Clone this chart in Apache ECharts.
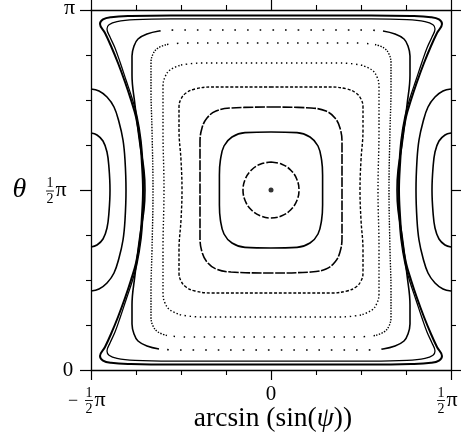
<!DOCTYPE html>
<html><head><meta charset="utf-8">
<script src="https://cdn.jsdelivr.net/npm/echarts@6/dist/echarts.min.js"></script>
<style>html,body{margin:0;padding:0;background:#fff}#c{width:462px;height:446px}</style>
</head><body><div id="c"></div>
<script>
// Units: degrees (x: arcsin(sin psi) from -90 to 90, y: theta from 0 to 180)
const xTickValues = [-90, 0, 90];
const xTickText = ['−½π', '0', '½π'];
const yTickValues = [0, 90, 180];
const yTickText = ['0', '½π', 'π'];

const centerPoint = [[0, 90]];
const k1 = [[0,104],[5.4,102.9],[9.9,99.9],[12.9,95.4],[14,90],[12.9,84.6],[9.9,80.1],[5.4,77.1],[0,76],[-5.4,77.1],[-9.9,80.1],[-12.9,84.6],[-14,90],[-12.9,95.4],[-9.9,99.9],[-5.4,102.9],[0,104]];
const k2 = [[0,119],[13,118.7],[19.5,116.5],[23.5,112],[25.3,105],[25.8,97.5],[25.8,90],[25.8,82.5],[25.3,75],[23.5,68],[19.5,63.5],[13,61.3],[0,61],[-13,61.3],[-19.5,63.5],[-23.5,68],[-25.3,75],[-25.8,82.5],[-25.8,90],[-25.8,97.5],[-25.3,105],[-23.5,112],[-19.5,116.5],[-13,118.7],[0,119]];
const k3 = [[0,131.5],[20,131],[27.5,129.5],[32,126],[34.5,121],[35.5,114],[35.5,102.5],[35.5,90],[35.5,77.5],[35.5,66],[34.5,59],[32,54],[27.5,50.5],[20,49],[0,48.5],[-20,49],[-27.5,50.5],[-32,54],[-34.5,59],[-35.5,66],[-35.5,77.5],[-35.5,90],[-35.5,102.5],[-35.5,114],[-34.5,121],[-32,126],[-27.5,129.5],[-20,131],[0,131.5]];
const k4 = [[0,141.5],[30,141.5],[38,140.5],[42.5,138.5],[45,135.5],[46,131.5],[46,120],[45,105],[44.5,90],[45,75],[46,60],[46,48.5],[45,44.5],[42.5,41.5],[38,39.5],[30,38.5],[0,38.5],[-30,38.5],[-38,39.5],[-42.5,41.5],[-45,44.5],[-46,48.5],[-46,60],[-45,75],[-44.5,90],[-45,105],[-46,120],[-46,131.5],[-45,135.5],[-42.5,138.5],[-38,140.5],[-30,141.5],[0,141.5]];
const k5Top = [[-45,152.5],[-35,153.5],[0,153.5],[35,153.5],[45,152.5]];
const k5Right = [[45,152.5],[50.5,150],[53,146.5],[54,142],[54,120],[53.5,90],[54,60],[54,38],[53,33.5],[50.5,30],[45,27.5]];
const k5Bottom = [[45,27.5],[35,26.5],[0,26.5],[-35,26.5],[-45,27.5]];
const k5Left = [[-45,27.5],[-50.5,30],[-53,33.5],[-54,38],[-54,60],[-53.5,90],[-54,120],[-54,142],[-53,146.5],[-50.5,150],[-45,152.5]];
const k6Top = [[-52,162.75],[-42.5,163.5],[0,163.5],[42.5,163.5],[52,162.75]];
const k6Right = [[52,162.75],[56.5,161],[59,158],[60,153.5],[60,140],[59.5,120],[59,90],[59.5,60],[60,40],[60,26.5],[59,22],[56.5,19],[52,17.25]];
const k6Bottom = [[52,17.25],[42.5,16.5],[0,16.5],[-42.5,16.5],[-52,17.25]];
const k6Left = [[-52,17.25],[-56.5,19],[-59,22],[-60,26.5],[-60,40],[-59.5,60],[-59,90],[-59.5,120],[-60,140],[-60,153.5],[-59,158],[-56.5,161],[-52,162.75]];
const k7Top = [[-56,169.5],[-47.5,170],[0,170],[47.5,170],[56,169.5]];
const k7Right = [[56,169.5],[62,168],[66.5,165.5],[68.5,162],[69.5,157],[69.5,147.5],[68,132.5],[65.5,112.5],[63.5,100],[63,90],[63.5,80],[65.5,67.5],[68,47.5],[69.5,32.5],[69.5,23],[68.5,18],[66.5,14.5],[62,12],[56,10.5]];
const k7Bottom = [[56,10.5],[47.5,10],[0,10],[-47.5,10],[-56,10.5]];
const k7Left = [[-56,10.5],[-62,12],[-66.5,14.5],[-68.5,18],[-69.5,23],[-69.5,32.5],[-68,47.5],[-65.5,67.5],[-63.5,80],[-63,90],[-63.5,100],[-65.5,112.5],[-68,132.5],[-69.5,147.5],[-69.5,157],[-68.5,162],[-66.5,165.5],[-62,168],[-56,169.5]];
const sepOuter = [[0,177.3],[50,177.3],[70,177],[80,176.4],[84,175.3],[85.5,173],[83,168.5],[80,162],[76.5,153.5],[73,144],[70,135],[67.5,126.5],[65.5,115],[64.5,102.5],[64,90],[64.5,77.5],[65.5,65],[67.5,53.5],[70,45],[73,36],[76.5,26.5],[80,18],[83,11.5],[85.5,7],[84,4.7],[80,3.6],[70,3],[50,2.7],[0,2.7],[-50,2.7],[-70,3],[-80,3.6],[-84,4.7],[-85.5,7],[-83,11.5],[-80,18],[-76.5,26.5],[-73,36],[-70,45],[-67.5,53.5],[-65.5,65],[-64.5,77.5],[-64,90],[-64.5,102.5],[-65.5,115],[-67.5,126.5],[-70,135],[-73,144],[-76.5,153.5],[-80,162],[-83,168.5],[-85.5,173],[-84,175.3],[-80,176.4],[-70,177],[-50,177.3],[0,177.3]];
const sepInner = [[0,175.6],[50,175.6],[68,175.2],[77,174.2],[81,172.6],[82,170.5],[80.5,166.5],[78,161],[75.5,154],[72.5,145],[69.5,136],[67,127],[65,115],[64,102.5],[63.5,90],[64,77.5],[65,65],[67,53],[69.5,44],[72.5,35],[75.5,26],[78,19],[80.5,13.5],[82,9.5],[81,7.4],[77,5.8],[68,4.8],[50,4.4],[0,4.4],[-50,4.4],[-68,4.8],[-77,5.8],[-81,7.4],[-82,9.5],[-80.5,13.5],[-78,19],[-75.5,26],[-72.5,35],[-69.5,44],[-67,53],[-65,65],[-64,77.5],[-63.5,90],[-64,102.5],[-65,115],[-67,127],[-69.5,136],[-72.5,145],[-75.5,154],[-78,161],[-80.5,166.5],[-82,170.5],[-81,172.6],[-77,174.2],[-68,175.2],[-50,175.6],[0,175.6]];
const lobeLeftOuter = [[-90,140.5],[-86,139.5],[-82,136.5],[-78.5,131.5],[-76,124],[-74,115],[-73,105],[-72.5,90],[-73,75],[-74,65],[-76,56],[-78.5,48.5],[-82,43.5],[-86,40.5],[-90,39.5]];
const lobeLeftInner = [[-90,118.5],[-87,117.5],[-84,114.5],[-82,109],[-81,101],[-80.5,90],[-81,79],[-82,71],[-84,65.5],[-87,62.5],[-90,61.5]];
const lobeRightOuter = [[90,140.5],[86,139.5],[82,136.5],[78.5,131.5],[76,124],[74,115],[73,105],[72.5,90],[73,75],[74,65],[76,56],[78.5,48.5],[82,43.5],[86,40.5],[90,39.5]];
const lobeRightInner = [[90,118.5],[87,117.5],[84,114.5],[82,109],[81,101],[80.5,90],[81,79],[82,71],[84,65.5],[87,62.5],[90,61.5]];

const FONT = "'Liberation Serif','DejaVu Serif',serif";
function ln(data, width, type) {
  return {type:'line', data, showSymbol:false, smooth:0.4, silent:true, animation:false,
    lineStyle:{color:'#000', width, type, cap:'butt'}};
}
const series = [
  ln(k1, 1.6, [7,2]),
  ln(k2, 1.6, 'solid'),
  ln(k3, 1.6, [10,1.6]),
  ln(k4, 1.4, [3,1.8]),
  ln(k5Top, 1.4, [1.4,3.6]), ln(k5Bottom, 1.4, [1.4,3.6]),
  ln(k5Right, 1.4, [1.4,2]), ln(k5Left, 1.4, [1.4,2]),
  ln(k6Top, 1.5, [1.5,8.5]), ln(k6Bottom, 1.5, [1.5,8.5]),
  ln(k6Right, 1.4, [1.4,1.4]), ln(k6Left, 1.4, [1.4,1.4]),
  ln(k7Top, 1.6, [1.6,11]), ln(k7Bottom, 1.6, [1.6,11]),
  ln(k7Right, 1.6, 'solid'), ln(k7Left, 1.6, 'solid'),
  ln(sepOuter, 2, 'solid'), ln(sepInner, 1.3, 'solid'),
  ln(lobeLeftOuter, 1.6, 'solid'), ln(lobeLeftInner, 1.6, 'solid'),
  ln(lobeRightOuter, 1.6, 'solid'), ln(lobeRightInner, 1.6, 'solid'),
  {type:'scatter', data:centerPoint, symbolSize:5, itemStyle:{color:'#000'}, silent:true, animation:false}
];

function axisBase(extra) {
  return Object.assign({
    type:'value', interval:90,
    axisLine:{show:true, onZero:false, lineStyle:{color:'#000', width:1.3}},
    axisTick:{show:true, inside:false, length:10, lineStyle:{color:'#000', width:1.2}},
    minorTick:{show:true, splitNumber:4, length:5, lineStyle:{color:'#000', width:1.1}},
    axisLabel:{show:false}, splitLine:{show:false}, minorSplitLine:{show:false}
  }, extra);
}

const chart = echarts.init(document.getElementById('c'));
chart.setOption({
  animation:false,
  grid:{left:91, top:10, width:360, height:360, containLabel:false},
  xAxis:[axisBase({min:-90, max:90, position:'bottom'}), axisBase({min:-90, max:90, position:'top'})],
  yAxis:[axisBase({min:0, max:180, position:'left', axisTick:{show:true, inside:false, length:11, lineStyle:{color:'#000', width:1.2}}}),
         axisBase({min:0, max:180, position:'right'})],
  series
});

// Tick labels and axis titles as text
const g = [];
function txt(s, x, y, size, extra) {
  g.push({type:'text', silent:true, style:Object.assign({text:s, x, y, fontFamily:FONT, fontSize:size,
    textAlign:'center', textVerticalAlign:'middle', fill:'#000'}, extra||{})});
}
function fracLabel(label, cx, cy) {
  const i = label.indexOf('½');
  const pre = label.slice(0, i), post = label.slice(i+1);
  if (pre) txt(pre, cx - 16, cy + 0.5, 18);
  txt('1', cx, cy - 7.5, 14);
  g.push({type:'line', silent:true, shape:{x1:cx-4, y1:cy, x2:cx+4, y2:cy}, style:{stroke:'#000', lineWidth:0.9}});
  txt('2', cx, cy + 8.5, 14);
  txt(post, cx + 11, cy - 0.5, 22);
}
xTickValues.forEach((v, k) => {
  const p = chart.convertToPixel({xAxisIndex:0}, v);
  const s = xTickText[k];
  if (s.indexOf('½') >= 0) fracLabel(s, p + (v < 0 ? -2 : -10), 400.5);
  else txt(s, p, 394.5, 21);
});
yTickValues.forEach((v, k) => {
  const p = chart.convertToPixel({yAxisIndex:0}, v);
  const s = yTickText[k];
  if (s.indexOf('½') >= 0) fracLabel(s, 50, p + 1);
  else txt(s, s === 'π' ? 69.5 : 68, p + (s === 'π' ? -1.5 : 0.5), s === 'π' ? 22 : 21);
});
txt('θ', 19.5, 190, 28, {fontStyle:'italic'});
g.push({type:'text', silent:true, style:{text:'{a|arcsin (sin(}{b|ψ}{a|))}', x:273, y:419,
  textAlign:'center', textVerticalAlign:'middle',
  rich:{a:{fontFamily:FONT, fontSize:27.5, fill:'#000'}, b:{fontFamily:FONT, fontSize:27.5, fontStyle:'italic', fill:'#000'}}}});
chart.setOption({graphic:g});
</script></body></html>
